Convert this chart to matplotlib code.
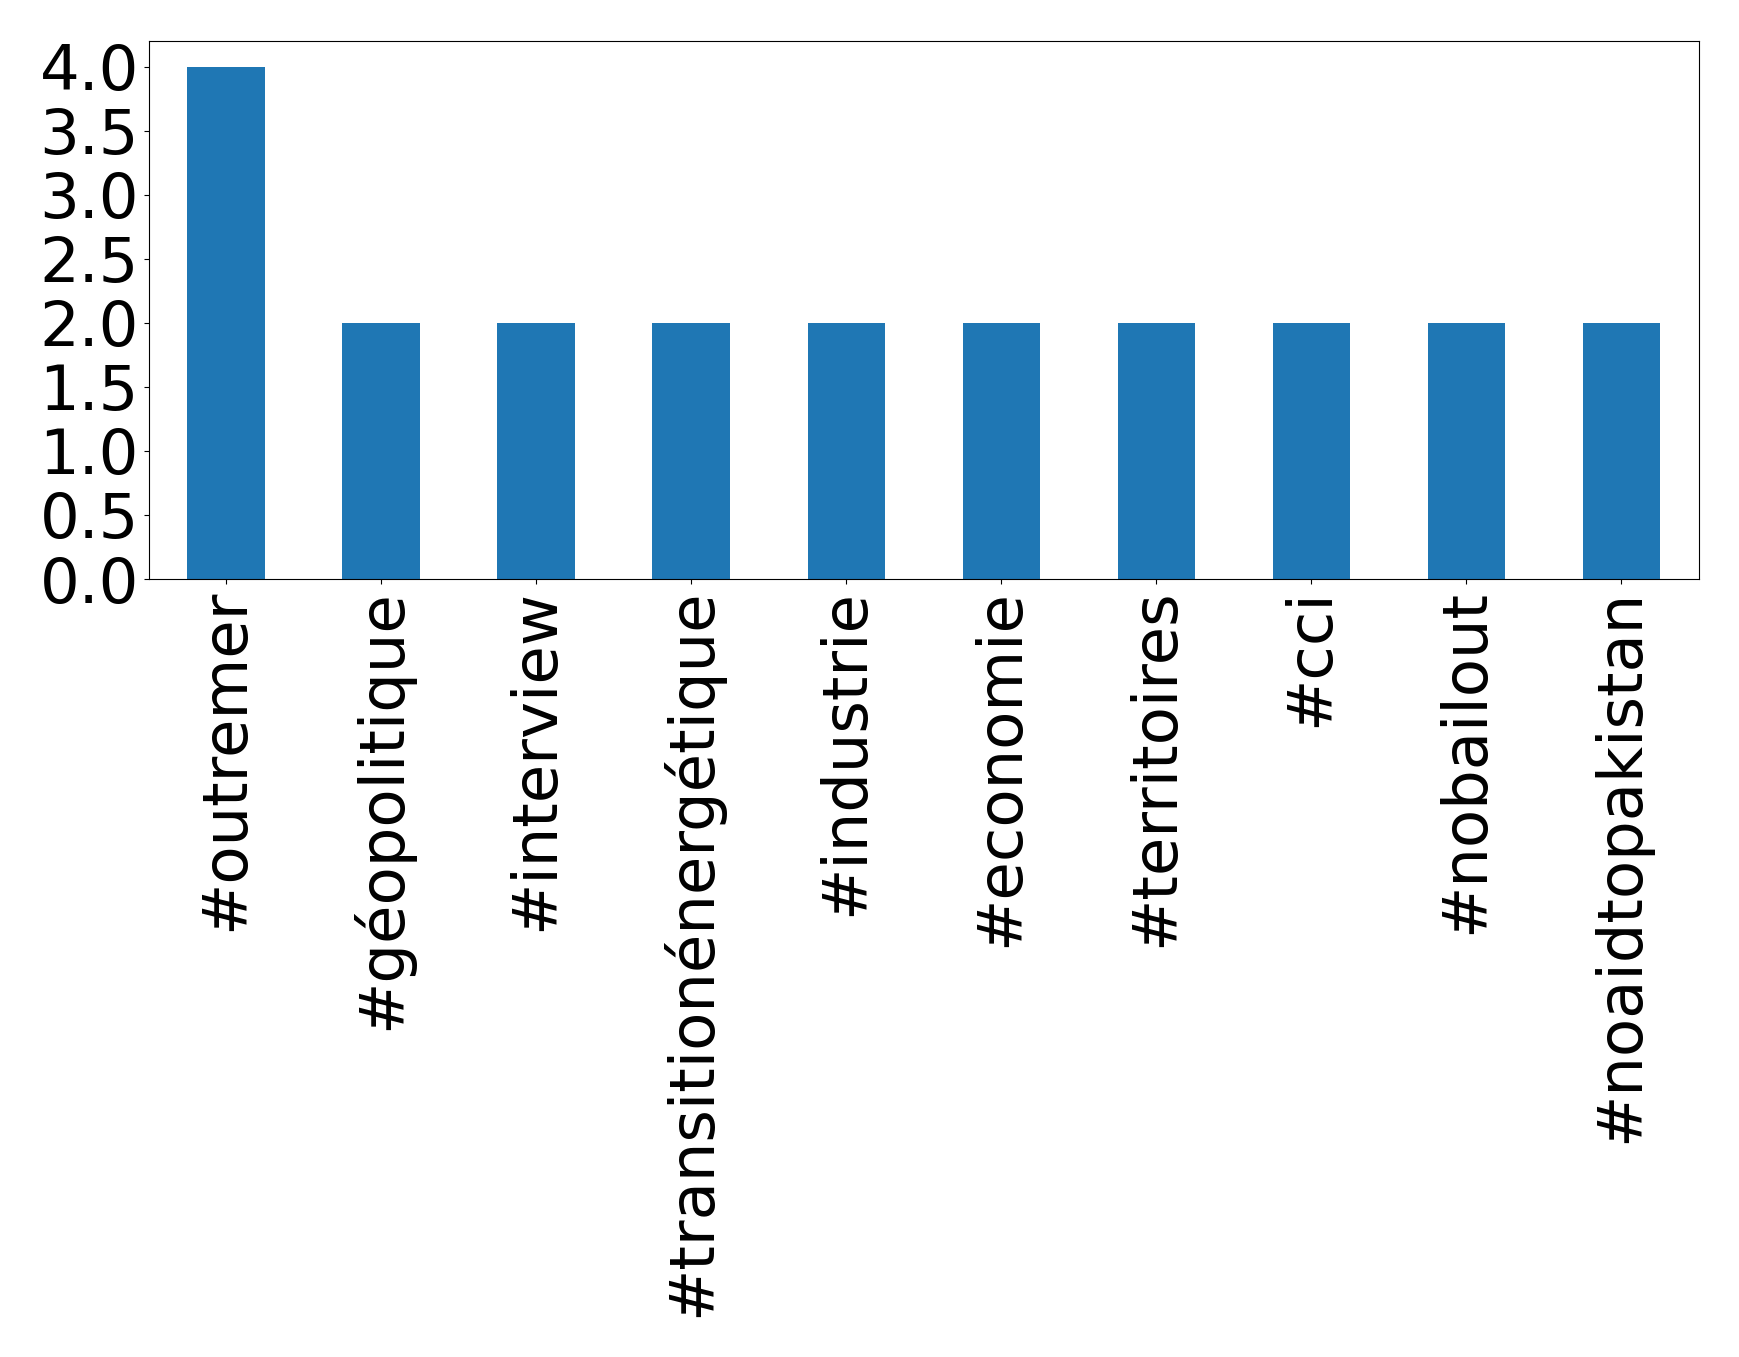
import matplotlib
matplotlib.use("Agg")
import matplotlib.pyplot as plt

categories = ["#outremer", "#géopolitique", "#interview", "#transitionénergétique",
              "#industrie", "#economie", "#territoires", "#cci", "#nobailout",
              "#noaidtopakistan"]
values = [4, 2, 2, 2, 2, 2, 2, 2, 2, 2]

fig = plt.figure(figsize=(17.39, 13.57), dpi=100)
ax = fig.add_axes([148.6/1739, 1-579/1357, (1699-148.6)/1739, (579-41)/1357])
x = list(range(len(categories)))
ax.bar(x, values, width=0.5, color="#1f77b4")
ax.set_xlim(-0.5, len(categories)-0.5)
ax.set_ylim(0, 4.2)
ax.set_yticks([0, 0.5, 1, 1.5, 2, 2.5, 3, 3.5, 4])
ax.set_yticklabels(["0.0", "0.5", "1.0", "1.5", "2.0", "2.5", "3.0", "3.5", "4.0"])
ax.set_xticks(x)
ax.set_xticklabels(categories, rotation=90)
ax.tick_params(labelsize=45)
fig.savefig("out.png", dpi=100)
